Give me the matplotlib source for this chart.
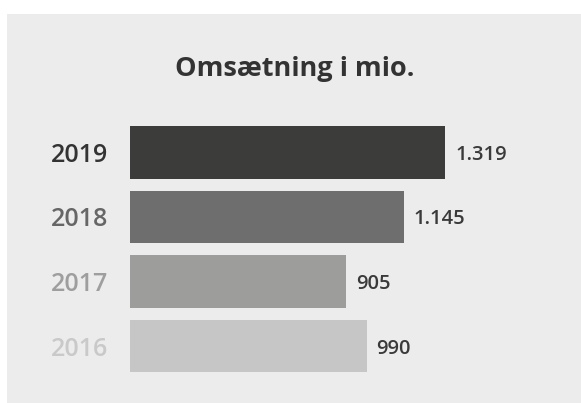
import matplotlib
matplotlib.use('Agg')
import matplotlib.pyplot as plt
from matplotlib.patches import Rectangle

plt.rcParams['font.family'] = ['Open Sans', 'DejaVu Sans']

# data
aar = ['2019', '2018', '2017', '2016']
omsaetning = [1319, 1145, 905, 990]
labels = ['1.319', '1.145', '905', '990']
bar_farver = ['#3c3c3a', '#6e6e6e', '#9d9d9b', '#c6c6c6']
aar_farver = ['#333333', '#666666', '#9e9e9e', '#c9c9c9']

W, H = 581, 403
fig = plt.figure(figsize=(W / 100, H / 100), dpi=100)
fig.patch.set_facecolor('white')

# grå baggrund
fig.patches.append(Rectangle((7 / W, 0), 1 - 7 / W, 1 - 14 / H, transform=fig.transFigure,
                             facecolor='#ececec', edgecolor='none', zorder=-10))

# akse: venstre kant ved 130 px, 0.239 px pr. enhed
ax_left, ax_right = 130, 570
ax_top, ax_bot = 120, 378.6
ax = fig.add_axes([ax_left / W, 1 - ax_bot / H, (ax_right - ax_left) / W, (ax_bot - ax_top) / H])
ax.set_facecolor('none')
ax.set_xlim(0, (ax_right - ax_left) / 0.239)
ax.set_ylim(3.5, -0.5)

pos = list(range(len(aar)))
ax.barh(pos, omsaetning, height=0.81, color=bar_farver)

for p, v, lab in zip(pos, omsaetning, labels):
    ax.annotate(lab, (v, p), xytext=(10, 0), textcoords='offset pixels',
                ha='left', va='center_baseline', fontsize=14.5, color='#3a3a3a',
                fontweight='semibold')

ax.set_yticks(pos)
ax.set_yticklabels(aar, fontsize=18, fontweight='semibold')
for t, c in zip(ax.get_yticklabels(), aar_farver):
    t.set_color(c)
ax.tick_params(axis='y', length=0, pad=15.5)
ax.set_xticks([])
for s in ax.spines.values():
    s.set_visible(False)

fig.text(295 / W, 1 - 76 / H, 'Omsætning i mio.', ha='center', va='baseline',
         fontsize=19.5, fontweight='bold', color='#333333')

fig.savefig('out.png', dpi=100)
